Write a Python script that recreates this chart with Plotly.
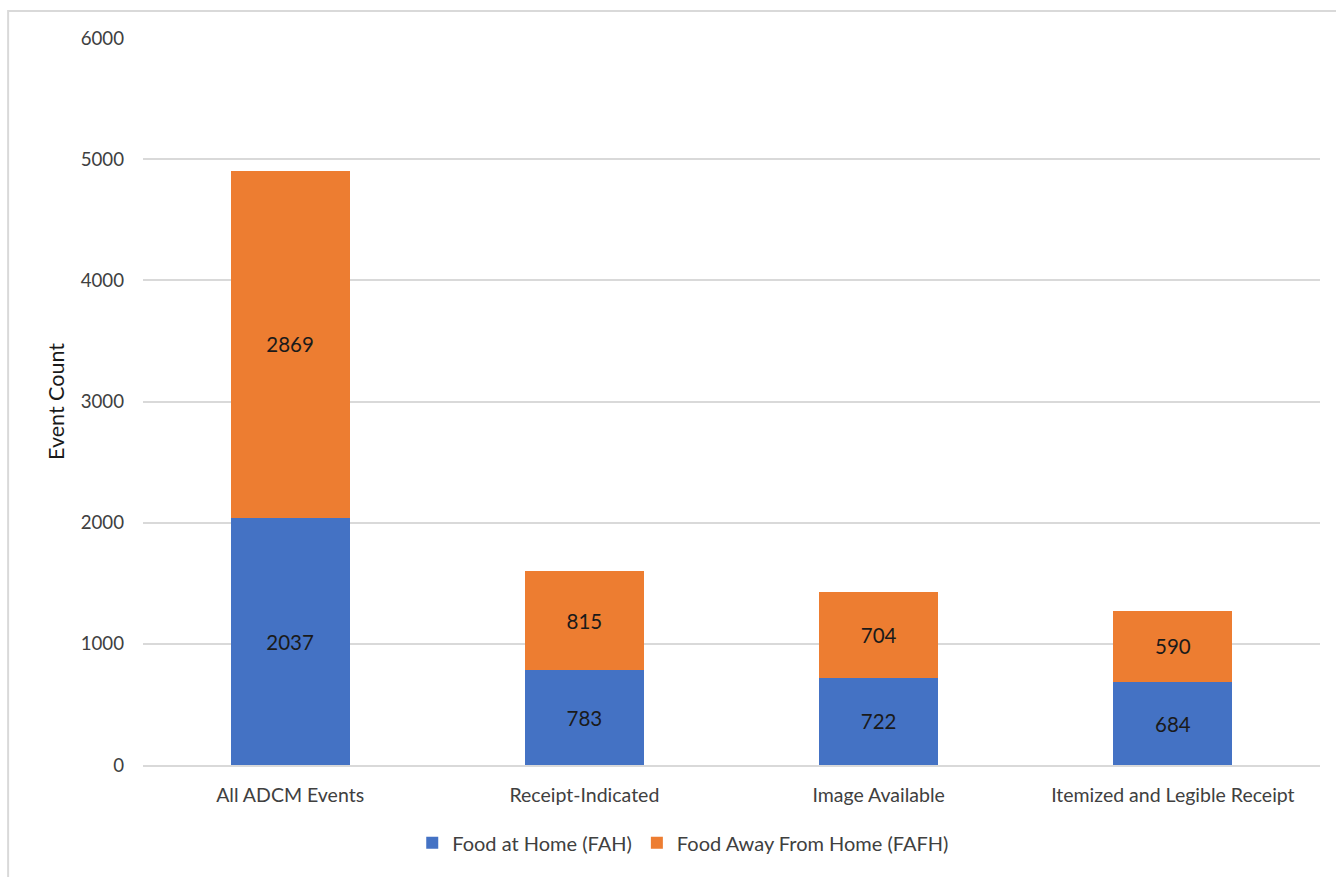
import plotly.graph_objects as go

categories = ["All ADCM Events", "Receipt-Indicated", "Image Available", "Itemized and Legible Receipt"]
fah = [2037, 783, 722, 684]
fafh = [2869, 815, 704, 590]
series_names = ["Food at Home (FAH)", "Food Away From Home (FAFH)"]
y_ticks = [0, 1000, 2000, 3000, 4000, 5000, 6000]

FONT = "Lato, 'Open Sans', sans-serif"

fig = go.Figure()
fig.add_trace(go.Bar(
    x=categories, y=fah, name=series_names[0],
    marker=dict(color="#4472C4", line=dict(width=0)),
    text=fah, textposition="inside", insidetextanchor="middle",
    textfont=dict(family=FONT, size=20.5, color="#1a1a1a"),
))
fig.add_trace(go.Bar(
    x=categories, y=fafh, name=series_names[1],
    marker=dict(color="#ED7D31", line=dict(width=0)),
    text=fafh, textposition="inside", insidetextanchor="middle",
    textfont=dict(family=FONT, size=20.5, color="#1a1a1a"),
))

fig.update_layout(
    width=1336, height=877,
    barmode="stack", bargap=0.595,
    paper_bgcolor="white", plot_bgcolor="white",
    margin=dict(l=143, r=16, t=38, b=112),
    font=dict(family=FONT, size=19, color="#404040"),
    uniformtext=dict(mode=False),
    xaxis=dict(
        showgrid=False, showline=True, linecolor="#D9D9D9", linewidth=1.5,
        ticks="", tickfont=dict(size=19.5, color="#404040"),
        ticklabelstandoff=12,
    ),
    yaxis=dict(
        range=[0, 6000], tickvals=y_ticks, showgrid=True, gridcolor="#D9D9D9",
        gridwidth=1.5, zeroline=False, ticks="", ticklen=0,
        tickfont=dict(size=18.7, color="#404040"),
        ticklabelstandoff=18,
        title=dict(text="Event Count", font=dict(size=21.5, color="#1a1a1a"), standoff=10),
    ),
    legend=dict(
        orientation="h", x=0.459, xanchor="center", y=-0.107, yanchor="middle",
        font=dict(size=20, color="#404040"), traceorder="normal",
        itemwidth=30,
    ),
    shapes=[dict(
        type="rect", xref="paper", yref="paper",
        x0=-0.1146, x1=1.02, y0=-0.2, y1=1.0371,
        line=dict(color="#D9D9D9", width=2), fillcolor="rgba(0,0,0,0)", layer="below",
    )],
)

fig.write_html("out.html")
